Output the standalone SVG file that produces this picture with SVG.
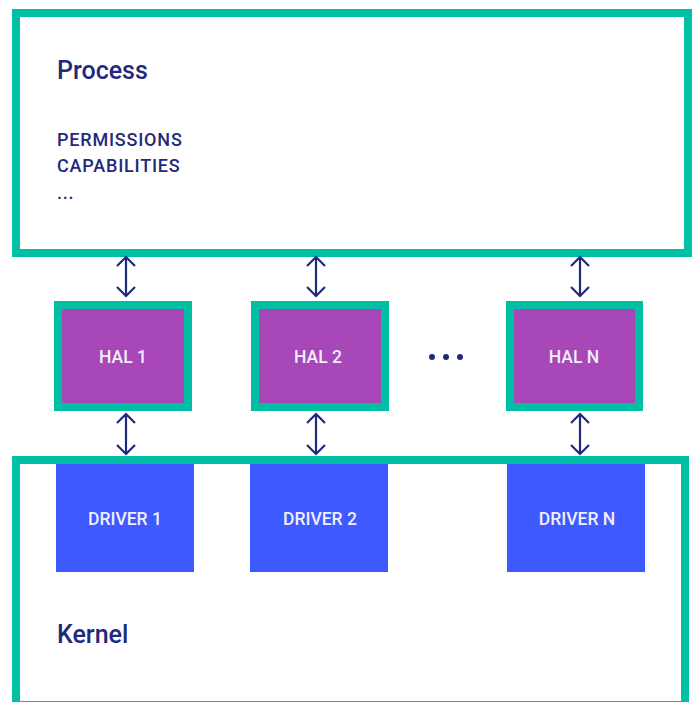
<svg xmlns="http://www.w3.org/2000/svg" width="698" height="702" viewBox="0 0 698 702">
<style>
.frame{fill:#fff;stroke:#00BFA5;stroke-width:8}
.hal{fill:#A847B8;stroke:#00BFA5;stroke-width:8}
.drv{fill:#3D5AFE}
.title{font-family:Roboto,"Liberation Sans",sans-serif;font-weight:500;font-size:25px;fill:#1F2A7C}
.sub{font-family:Roboto,"Liberation Sans",sans-serif;font-weight:500;font-size:18px;fill:#1F2A7C;letter-spacing:0.8px}
.lbl{font-family:Roboto,"Liberation Sans",sans-serif;font-weight:500;font-size:17.5px;fill:#F3EEFF;text-anchor:middle}
.arr{fill:none;stroke:#1F2A7C;stroke-width:2.2}
</style>
<g id="process">
<rect class="frame" x="16" y="13" width="672" height="240"/>
<text class="title" x="57" y="79">Process</text>
<text class="sub" x="57" y="146">PERMISSIONS</text>
<text class="sub" x="57" y="172">CAPABILITIES</text>
<text class="sub" x="57" y="199">...</text>
</g>
<g id="kernel">
<rect class="frame" x="16" y="460" width="669" height="245"/>
<text class="title" x="57" y="643">Kernel</text>
</g>
<g id="hal1"><rect class="hal" x="58" y="305" width="130" height="102"/><text class="lbl" x="123" y="363">HAL 1</text></g>
<g id="hal2"><rect class="hal" x="255" y="305" width="130" height="102"/><text class="lbl" x="318" y="363">HAL 2</text></g>
<g id="haln"><rect class="hal" x="510" y="305" width="129" height="102"/><text class="lbl" x="574" y="363">HAL N</text></g>
<g id="ellipsis" fill="#1F2A7C"><circle cx="432" cy="357" r="3"/><circle cx="446" cy="357" r="3"/><circle cx="460" cy="357" r="3"/></g>
<g id="driver1"><rect class="drv" x="56" y="464" width="138" height="108"/><text class="lbl" x="125" y="525">DRIVER 1</text></g>
<g id="driver2"><rect class="drv" x="250" y="464" width="138" height="108"/><text class="lbl" x="320" y="525">DRIVER 2</text></g>
<g id="drivern"><rect class="drv" x="507" y="464" width="138" height="108"/><text class="lbl" x="577" y="525">DRIVER N</text></g>
<g id="connectors">
<path class="arr" d="M126 257V296M117 266L126 257L135 266M117 287L126 296L135 287"/>
<path class="arr" d="M316 257V296M307 266L316 257L325 266M307 287L316 296L325 287"/>
<path class="arr" d="M580 257V296M571 266L580 257L589 266M571 287L580 296L589 287"/>
<path class="arr" d="M126 414V454M117 423L126 414L135 423M117 445L126 454L135 445"/>
<path class="arr" d="M316 414V454M307 423L316 414L325 423M307 445L316 454L325 445"/>
<path class="arr" d="M580 414V454M571 423L580 414L589 423M571 445L580 454L589 445"/>
</g>
</svg>
